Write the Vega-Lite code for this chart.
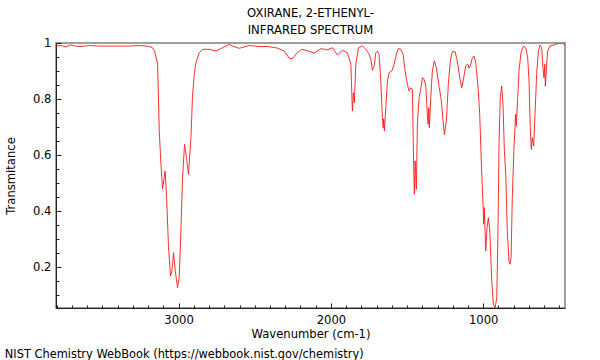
{
  "$schema": "https://vega.github.io/schema/vega-lite/v6.json",
  "padding": {"left": 4, "top": 7, "right": 5, "bottom": 3},
  "background": "white",
  "config": {
    "font": "DejaVu Sans",
    "view": {"stroke": "#808080", "strokeWidth": 1.5},
    "axis": {
      "grid": false,
      "domainColor": "#222",
      "domainWidth": 1,
      "tickColor": "#222",
      "labelFont": "DejaVu Sans",
      "labelFontSize": 11.6,
      "labelColor": "#000",
      "titleFont": "DejaVu Sans",
      "titleFontSize": 11.6,
      "titleFontWeight": "normal",
      "titleColor": "#000"
    }
  },
  "title": {
    "text": "NIST Chemistry WebBook (https://webbook.nist.gov/chemistry)",
    "orient": "bottom",
    "anchor": "start",
    "frame": "bounds",
    "font": "DejaVu Sans",
    "fontSize": 11.4,
    "fontWeight": "normal",
    "color": "#000",
    "offset": 8
  },
  "vconcat": [
    {
      "width": 509,
      "height": 265,
      "title": {
        "text": ["OXIRANE, 2-ETHENYL-", "INFRARED SPECTRUM"],
        "font": "DejaVu Sans",
        "fontSize": 11.6,
        "fontWeight": "normal",
        "lineHeight": 17.5,
        "color": "#000",
        "anchor": "middle",
        "offset": 0
      },
      "data": {
        "values": [
          {"wn": 3803, "t": 0.989}, {"wn": 3770, "t": 0.991}, {"wn": 3744, "t": 0.986}, {"wn": 3711, "t": 0.993},
          {"wn": 3678, "t": 0.989}, {"wn": 3639, "t": 0.9875}, {"wn": 3586, "t": 0.991}, {"wn": 3521, "t": 0.989},
          {"wn": 3455, "t": 0.989}, {"wn": 3390, "t": 0.989}, {"wn": 3324, "t": 0.989}, {"wn": 3258, "t": 0.991},
          {"wn": 3206, "t": 0.989}, {"wn": 3173, "t": 0.984}, {"wn": 3157, "t": 0.971}, {"wn": 3138, "t": 0.925},
          {"wn": 3127, "t": 0.686}, {"wn": 3116, "t": 0.568}, {"wn": 3105.5, "t": 0.479}, {"wn": 3088, "t": 0.543},
          {"wn": 3079, "t": 0.4475}, {"wn": 3066, "t": 0.269}, {"wn": 3053, "t": 0.168}, {"wn": 3044, "t": 0.186},
          {"wn": 3033, "t": 0.251}, {"wn": 3022, "t": 0.186}, {"wn": 3007, "t": 0.126}, {"wn": 2996, "t": 0.162},
          {"wn": 2985, "t": 0.329}, {"wn": 2974, "t": 0.519}, {"wn": 2961, "t": 0.638}, {"wn": 2948, "t": 0.59},
          {"wn": 2935, "t": 0.531}, {"wn": 2919, "t": 0.662}, {"wn": 2909, "t": 0.805}, {"wn": 2897.5, "t": 0.888},
          {"wn": 2886, "t": 0.93}, {"wn": 2865, "t": 0.965}, {"wn": 2843, "t": 0.9775}, {"wn": 2799, "t": 0.9775},
          {"wn": 2755, "t": 0.971}, {"wn": 2712, "t": 0.983}, {"wn": 2668, "t": 0.995}, {"wn": 2646, "t": 0.989},
          {"wn": 2602, "t": 0.981}, {"wn": 2537, "t": 0.991}, {"wn": 2471, "t": 0.9875}, {"wn": 2412, "t": 0.9875},
          {"wn": 2353, "t": 0.982}, {"wn": 2307, "t": 0.971}, {"wn": 2274, "t": 0.946}, {"wn": 2254.5, "t": 0.943},
          {"wn": 2228, "t": 0.961}, {"wn": 2195, "t": 0.977}, {"wn": 2156, "t": 0.973}, {"wn": 2110, "t": 0.964},
          {"wn": 2064, "t": 0.98}, {"wn": 2025, "t": 0.975}, {"wn": 1990, "t": 0.983}, {"wn": 1957, "t": 0.957},
          {"wn": 1924, "t": 0.974}, {"wn": 1892, "t": 0.965}, {"wn": 1869, "t": 0.924}, {"wn": 1859, "t": 0.757},
          {"wn": 1852, "t": 0.8225}, {"wn": 1846, "t": 0.787}, {"wn": 1836.5, "t": 0.924}, {"wn": 1819, "t": 0.983},
          {"wn": 1793, "t": 0.989}, {"wn": 1771, "t": 0.9775}, {"wn": 1749, "t": 0.96}, {"wn": 1738, "t": 0.942},
          {"wn": 1727.6, "t": 0.9025}, {"wn": 1716, "t": 0.918}, {"wn": 1705, "t": 0.965}, {"wn": 1695, "t": 0.971},
          {"wn": 1684, "t": 0.96}, {"wn": 1672.5, "t": 0.864}, {"wn": 1662, "t": 0.733}, {"wn": 1657, "t": 0.6975},
          {"wn": 1653, "t": 0.729}, {"wn": 1649, "t": 0.686}, {"wn": 1639.6, "t": 0.769}, {"wn": 1629, "t": 0.864},
          {"wn": 1618, "t": 0.894}, {"wn": 1600, "t": 0.9}, {"wn": 1585, "t": 0.924}, {"wn": 1570, "t": 0.96},
          {"wn": 1557, "t": 0.981}, {"wn": 1541, "t": 0.9775}, {"wn": 1526, "t": 0.96}, {"wn": 1513, "t": 0.9},
          {"wn": 1498, "t": 0.8525}, {"wn": 1487, "t": 0.829}, {"wn": 1475.6, "t": 0.84}, {"wn": 1465, "t": 0.835},
          {"wn": 1460.5, "t": 0.686}, {"wn": 1456, "t": 0.543}, {"wn": 1452, "t": 0.4596}, {"wn": 1447, "t": 0.579},
          {"wn": 1443, "t": 0.531}, {"wn": 1439, "t": 0.4775}, {"wn": 1432, "t": 0.71}, {"wn": 1421, "t": 0.805},
          {"wn": 1410, "t": 0.835}, {"wn": 1399.5, "t": 0.876}, {"wn": 1388, "t": 0.87}, {"wn": 1377, "t": 0.846},
          {"wn": 1367, "t": 0.745}, {"wn": 1362, "t": 0.71}, {"wn": 1357.5, "t": 0.769}, {"wn": 1353.5, "t": 0.6975},
          {"wn": 1344, "t": 0.805}, {"wn": 1334, "t": 0.9}, {"wn": 1321, "t": 0.936}, {"wn": 1307.6, "t": 0.912},
          {"wn": 1290, "t": 0.846}, {"wn": 1275, "t": 0.793}, {"wn": 1263.6, "t": 0.7214}, {"wn": 1255, "t": 0.673},
          {"wn": 1242, "t": 0.7214}, {"wn": 1229, "t": 0.8525}, {"wn": 1216, "t": 0.936}, {"wn": 1202.6, "t": 0.969},
          {"wn": 1185, "t": 0.969}, {"wn": 1170, "t": 0.936}, {"wn": 1154, "t": 0.876}, {"wn": 1141, "t": 0.84},
          {"wn": 1128, "t": 0.876}, {"wn": 1115, "t": 0.918}, {"wn": 1101.6, "t": 0.924}, {"wn": 1093, "t": 0.91},
          {"wn": 1082, "t": 0.924}, {"wn": 1071, "t": 0.9475}, {"wn": 1060, "t": 0.954}, {"wn": 1049, "t": 0.93},
          {"wn": 1032, "t": 0.829}, {"wn": 1023, "t": 0.745}, {"wn": 1012, "t": 0.567}, {"wn": 1001, "t": 0.424},
          {"wn": 996.6, "t": 0.3525}, {"wn": 992.7, "t": 0.412}, {"wn": 983.5, "t": 0.257}, {"wn": 975, "t": 0.34},
          {"wn": 966, "t": 0.376}, {"wn": 957, "t": 0.329}, {"wn": 944, "t": 0.15}, {"wn": 933.6, "t": 0.067},
          {"wn": 922, "t": 0.054}, {"wn": 911, "t": 0.09}, {"wn": 903, "t": 0.329}, {"wn": 896, "t": 0.65},
          {"wn": 888, "t": 0.805}, {"wn": 878.5, "t": 0.846}, {"wn": 870, "t": 0.781}, {"wn": 861, "t": 0.614},
          {"wn": 852, "t": 0.531}, {"wn": 842, "t": 0.329}, {"wn": 830.6, "t": 0.221}, {"wn": 824, "t": 0.2096},
          {"wn": 817, "t": 0.233}, {"wn": 809, "t": 0.4475}, {"wn": 798, "t": 0.626}, {"wn": 787, "t": 0.745},
          {"wn": 783, "t": 0.704}, {"wn": 773.5, "t": 0.805}, {"wn": 765, "t": 0.9}, {"wn": 752, "t": 0.965},
          {"wn": 737, "t": 0.989}, {"wn": 721, "t": 0.983}, {"wn": 708, "t": 0.9475}, {"wn": 699, "t": 0.864},
          {"wn": 691, "t": 0.6975}, {"wn": 684, "t": 0.62}, {"wn": 678, "t": 0.662}, {"wn": 668.5, "t": 0.632},
          {"wn": 660, "t": 0.745}, {"wn": 649, "t": 0.888}, {"wn": 638, "t": 0.971}, {"wn": 627, "t": 0.993},
          {"wn": 616, "t": 0.983}, {"wn": 607.5, "t": 0.912}, {"wn": 601, "t": 0.876}, {"wn": 596, "t": 0.924},
          {"wn": 592, "t": 0.846}, {"wn": 586, "t": 0.9}, {"wn": 577, "t": 0.971}, {"wn": 563.5, "t": 0.989},
          {"wn": 535, "t": 0.993}, {"wn": 514, "t": 0.9975}, {"wn": 498, "t": 1.0}, {"wn": 481, "t": 1.0},
          {"wn": 463, "t": 0.993}
        ]
      },
      "mark": {"type": "line", "color": "#ff1a1a", "strokeWidth": 1, "opacity": 0.9, "clip": true},
      "encoding": {
        "x": {
          "field": "wn",
          "type": "quantitative",
          "title": "Wavenumber (cm-1)",
          "scale": {"domain": [3805, 463], "nice": false, "zero": false},
          "axis": {
            "values": [500, 600, 700, 800, 900, 1000, 1100, 1200, 1300, 1400, 1500, 1600, 1700, 1800, 1900, 2000, 2100, 2200, 2300, 2400, 2500, 2600, 2700, 2800, 2900, 3000, 3100, 3200, 3300, 3400, 3500, 3600, 3700, 3800],
            "format": "d",
            "labelExpr": "datum.value % 1000 === 0 ? datum.label : ''",
            "labelOverlap": false,
            "labelFlush": false,
            "tickSize": {"condition": {"test": "datum.value % 1000 === 0", "value": -5}, "value": -3},
            "labelPadding": 11,
            "titlePadding": 1
          }
        },
        "y": {
          "field": "t",
          "type": "quantitative",
          "title": "Transmitance",
          "scale": {"domain": [0.0536, 1.0], "nice": false, "zero": false},
          "axis": {
            "values": [0.1, 0.15, 0.2, 0.25, 0.3, 0.35, 0.4, 0.45, 0.5, 0.55, 0.6, 0.65, 0.7, 0.75, 0.8, 0.85, 0.9, 0.95, 1.0],
            "format": "~g",
            "labelExpr": "abs(datum.value * 5 - round(datum.value * 5)) < 0.001 ? datum.label : ''",
            "labelOverlap": false,
            "labelFlush": false,
            "tickSize": {"condition": {"test": "abs(datum.value * 5 - round(datum.value * 5)) < 0.001", "value": -5}, "value": -3},
            "labelPadding": 10,
            "titlePadding": 16
          }
        }
      }
    }
  ]
}
